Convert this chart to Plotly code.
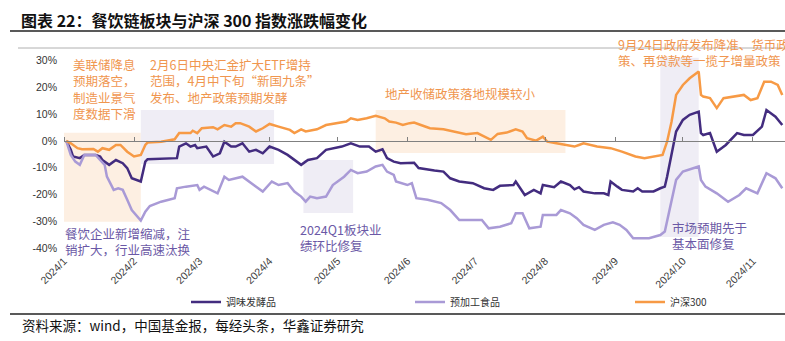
import plotly.graph_objects as go

# ---------------- data ----------------
hs300_dates = ["2024-01-02","2024-01-04","2024-01-07","2024-01-09","2024-01-14","2024-01-16","2024-01-18","2024-01-21","2024-01-24","2024-01-26",
               "2024-01-29","2024-02-01","2024-02-04","2024-02-06","2024-02-07","2024-02-13","2024-02-19","2024-02-21","2024-02-26","2024-02-27",
               "2024-02-29","2024-03-02","2024-03-07","2024-03-09","2024-03-12","2024-03-15","2024-03-17","2024-03-19","2024-03-23","2024-03-26",
               "2024-03-29","2024-04-01","2024-04-05","2024-04-10","2024-04-12","2024-04-15","2024-04-17","2024-04-22","2024-04-26","2024-04-30",
               "2024-05-05","2024-05-07","2024-05-10","2024-05-14","2024-05-18","2024-05-22","2024-05-24","2024-05-27","2024-05-30","2024-06-02",
               "2024-06-04","2024-06-07","2024-06-11","2024-06-17","2024-06-21","2024-06-25","2024-06-27","2024-07-02","2024-07-08","2024-07-11",
               "2024-07-15","2024-07-19","2024-07-22","2024-07-24","2024-07-28","2024-07-31","2024-08-02","2024-08-06","2024-08-11","2024-08-14",
               "2024-08-16","2024-08-18","2024-08-24","2024-08-30","2024-09-04","2024-09-10","2024-09-14","2024-09-19","2024-09-22","2024-09-24",
               "2024-09-26","2024-09-28","2024-10-01","2024-10-04","2024-10-08","2024-10-09","2024-10-10","2024-10-13","2024-10-16","2024-10-19",
               "2024-10-23","2024-10-28","2024-10-31","2024-11-03","2024-11-06","2024-11-09","2024-11-12","2024-11-14"]
hs300_vals = [0,-0.9,-2.7,-3.1,-3.0,-4.0,-2.7,-3.3,-1.5,-1.5,
              -4.0,-5.8,-5.2,-1.5,-0.6,-0.3,0.6,2.9,2.9,3.8,
              2.9,4.7,5.1,4.3,5.9,5.3,6.6,6.6,5.3,3.5,
              4.7,6.3,5.3,4.1,2.9,4.3,3.5,4.3,5.9,6.6,
              7.2,8.4,7.8,8.4,9.3,8.4,7.2,6.8,5.9,6.6,
              6.8,5.9,4.7,4.3,3.5,2.9,2.5,2.9,0.4,2.6,
              3.1,4.3,3.5,1.0,0.1,1.6,-0.3,-0.9,-1.5,-2.1,
              -1.5,-0.9,-2.1,-2.7,-4.0,-5.8,-6.4,-5.8,-5.2,-0.3,
              7.2,17.1,20.8,23.3,25.8,17.1,16.5,15.9,12.2,15.9,
              16.5,17.1,15.2,15.9,22.0,22.0,20.8,17.1]

tw_dates = ["2024-01-02","2024-01-04","2024-01-05","2024-01-08","2024-01-10","2024-01-15","2024-01-17","2024-01-18","2024-01-21","2024-01-24",
            "2024-01-27","2024-01-29","2024-01-31","2024-02-04","2024-02-06","2024-02-07","2024-02-20","2024-02-21","2024-02-24","2024-02-26",
            "2024-02-28","2024-02-29","2024-03-04","2024-03-07","2024-03-10","2024-03-12","2024-03-15","2024-03-17","2024-03-20","2024-03-23",
            "2024-03-26","2024-03-29","2024-04-01","2024-04-05","2024-04-09","2024-04-12","2024-04-15","2024-04-18","2024-04-22","2024-04-26",
            "2024-04-30","2024-05-03","2024-05-07","2024-05-11","2024-05-15","2024-05-18","2024-05-21","2024-05-23","2024-05-26","2024-05-29",
            "2024-06-04","2024-06-06","2024-06-13","2024-06-17","2024-06-20","2024-06-24","2024-06-30","2024-07-05","2024-07-09","2024-07-12",
            "2024-07-18","2024-07-19","2024-07-23","2024-07-27","2024-07-30","2024-07-31","2024-08-05","2024-08-08","2024-08-12","2024-08-14",
            "2024-08-16","2024-08-18","2024-08-23","2024-08-27","2024-08-29","2024-08-30","2024-09-02","2024-09-04","2024-09-09","2024-09-11",
            "2024-09-13","2024-09-18","2024-09-21","2024-09-23","2024-09-24","2024-09-26","2024-09-28","2024-10-01","2024-10-04","2024-10-08",
            "2024-10-09","2024-10-10","2024-10-13","2024-10-16","2024-10-20","2024-10-25","2024-10-28","2024-11-01","2024-11-05","2024-11-07",
            "2024-11-11","2024-11-14"]
tw_vals = [0,-3.3,-5.8,-6.4,-5.2,-5.2,-5.8,-7.1,-8.9,-7.1,
           -8.3,-10.1,-13.9,-15.1,-7.7,-6.8,-6.4,-2.1,-0.9,-2.1,
           -1.5,-2.7,-2.1,-5.8,-4.6,-0.3,-2.1,-2.1,-0.9,-4.0,
           -3.3,-4.6,-2.1,-3.3,-5.2,-7.1,-8.9,-7.1,-6.4,-3.3,
           -2.7,-2.1,-0.9,-2.1,-2.1,-4.0,-3.1,-6.4,-7.7,-8.3,
           -8.1,-10.1,-11.0,-11.4,-13.9,-15.1,-15.7,-17.6,-18.2,-16.7,
           -16.4,-15.1,-20.1,-18.2,-19.5,-16.4,-17.2,-15.1,-16.4,-18.0,
           -17.2,-18.8,-19.5,-19.5,-20.1,-15.1,-17.0,-18.2,-18.8,-17.6,
           -18.8,-18.8,-17.6,-17.0,-13.3,-5.2,3.5,7.8,9.7,10.9,
           2.9,2.2,2.9,-4.0,-1.5,2.9,2.2,2.2,5.3,11.5,
           9.0,5.9]

yj_dates = ["2024-01-02","2024-01-04","2024-01-06","2024-01-08","2024-01-10","2024-01-15","2024-01-17","2024-01-19","2024-01-20","2024-01-23",
            "2024-01-25","2024-01-27","2024-01-29","2024-01-31","2024-02-04","2024-02-06","2024-02-08","2024-02-13","2024-02-19","2024-02-20",
            "2024-02-24","2024-02-29","2024-03-01","2024-03-03","2024-03-09","2024-03-12","2024-03-14","2024-03-17","2024-03-20","2024-03-25",
            "2024-03-29","2024-04-02","2024-04-05","2024-04-09","2024-04-12","2024-04-15","2024-04-17","2024-04-19","2024-04-22","2024-04-26",
            "2024-04-29","2024-05-04","2024-05-07","2024-05-10","2024-05-14","2024-05-18","2024-05-21","2024-05-23","2024-05-26","2024-05-27",
            "2024-06-01","2024-06-03","2024-06-05","2024-06-10","2024-06-16","2024-06-20","2024-06-24","2024-07-04","2024-07-07","2024-07-12",
            "2024-07-17","2024-07-19","2024-07-22","2024-07-25","2024-07-30","2024-07-31","2024-08-06","2024-08-08","2024-08-12","2024-08-15",
            "2024-08-18","2024-08-23","2024-08-27","2024-08-31","2024-09-03","2024-09-06","2024-09-09","2024-09-16","2024-09-21","2024-09-23",
            "2024-09-25","2024-09-28","2024-10-01","2024-10-08","2024-10-09","2024-10-11","2024-10-16","2024-10-21","2024-10-26","2024-10-29",
            "2024-11-03","2024-11-07","2024-11-11","2024-11-14"]
yj_vals = [0,-5.2,-7.7,-8.9,-5.2,-5.2,-7.1,-8.9,-13.3,-18.2,
           -17.6,-18.2,-21.9,-25.7,-29.6,-26.3,-24.2,-22.6,-21.3,-17.6,
           -17.0,-16.4,-18.2,-17.0,-19.5,-13.3,-14.5,-13.9,-13.3,-16.4,
           -18.8,-15.1,-16.4,-15.7,-18.8,-20.7,-22.6,-20.7,-21.3,-20.7,
           -16.4,-13.3,-10.8,-12.0,-11.4,-9.5,-8.9,-11.4,-12.6,-15.1,
           -16.4,-15.7,-21.3,-21.9,-23.1,-25.7,-29.4,-29.4,-32.5,-31.9,
           -30.6,-26.9,-26.9,-32.5,-31.9,-27.5,-27.5,-25.7,-26.9,-28.7,
           -31.2,-33.1,-31.2,-30.3,-31.2,-33.1,-36.2,-36.2,-35.0,-33.7,
           -26.3,-14.5,-11.4,-9.5,-14.5,-17.0,-19.5,-22.6,-20.1,-17.6,
           -19.5,-12.0,-13.9,-17.6]

series_names = ["调味发酵品", "预加工食品", "沪深300"]
series_colors = ["#432c7f", "#a99ad6", "#f79a45"]

# highlighted periods (date range and value range)
shade_start = ["2024-01-01", "2024-02-04", "2024-04-16", "2024-05-18", "2024-09-21"]
shade_end = ["2024-02-04", "2024-04-03", "2024-05-08", "2024-08-10", "2024-10-08"]
shade_top = [3.0, 11.5, -7.1, 11.5, 30.9]
shade_bottom = [-30.1, -8.6, -26.8, -4.5, -35.7]
shade_fill = ["#fdefe2", "#efedf5", "#efedf5", "#fdefe2", "#efedf5"]

y_ticks = [30, 20, 10, 0, -10, -20, -30, -40]
y_range = [-41.3, 33.8]
x_range = ["2024-01-01", "2024-11-15 05:00"]

# ---------------- figure ----------------
W, H = 785, 341
ML, MR, MT, MB = 64, 0, 50, 89
PW, PH = W - ML - MR, H - MT - MB

def px(x):
    return (x - ML) / PW

def py(y):
    return (H - MB - y) / PH

fig = go.Figure()
legend_ids = ["legend", "legend2", "legend3"]
for (name, xs, ys, col), lg in zip([(series_names[0], tw_dates, tw_vals, series_colors[0]),
                                    (series_names[1], yj_dates, yj_vals, series_colors[1]),
                                    (series_names[2], hs300_dates, hs300_vals, series_colors[2])], legend_ids):
    fig.add_trace(go.Scatter(x=xs, y=ys, name=name, mode="lines", legend=lg,
                             line=dict(color=col, width=2.5)))

# helper trace for the zero-line axis with month ticks
fig.add_trace(go.Scatter(x=hs300_dates, y=hs300_vals, xaxis="x2", yaxis="y", mode="lines",
                         line=dict(color="rgba(0,0,0,0)", width=0), showlegend=False, hoverinfo="skip"))

shapes = []
for s, e, t, b, c in zip(shade_start, shade_end, shade_top, shade_bottom, shade_fill):
    shapes.append(dict(type="rect", xref="x", yref="y", x0=s, x1=e, y0=b, y1=t,
                       fillcolor=c, line=dict(width=0), layer="below"))
# page rules
shapes.append(dict(type="line", xref="paper", yref="paper", x0=px(10), x1=px(785), y0=py(31), y1=py(31),
                   line=dict(color="#222222", width=1.5)))
shapes.append(dict(type="line", xref="paper", yref="paper", x0=px(18), x1=px(785), y0=py(48), y1=py(48),
                   line=dict(color="#b0b0b0", width=1)))
shapes.append(dict(type="line", xref="paper", yref="paper", x0=px(10), x1=px(785), y0=py(314), y1=py(314),
                   line=dict(color="#222222", width=1.5)))

OR = "#f0964f"
PU = "#6b59a6"
CJK = "Noto Sans CJK SC"
ann = []
def add_text(text, x, y, color, size=12.5, xanchor="left", yanchor="middle"):
    ann.append(dict(text=text, x=px(x), y=py(y), xref="paper", yref="paper", showarrow=False,
                    xanchor=xanchor, yanchor=yanchor, align="left",
                    font=dict(family=CJK, size=size, color=color)))

add_text("<b>图表 22：餐饮链板块与沪深 300 指数涨跌幅变化</b>", 19, 20, "#111111", size=16)
add_text("美联储降息<br>预期落空，<br>制造业景气<br>度数据下滑", 71, 89, OR)
add_text("2月6日中央汇金扩大ETF增持<br>范围，4月中下旬“新国九条”<br>发布、地产政策预期发酵", 148, 81, OR)
add_text("地产收储政策落地规模较小", 383, 93, OR)
add_text("9月24日政府发布降准、货币政<br>策、再贷款等一揽子增量政策", 616, 52, OR)
add_text("餐饮企业新增缩减，注<br>销扩大，行业高速汰换", 63, 241, PU)
add_text("2024Q1板块业<br>绩环比修复", 298, 237, PU)
add_text("市场预期先于<br>基本面修复", 670, 235.5, PU)
add_text("资料来源：wind，中国基金报，每经头条，华鑫证券研究", 20, 325, "#111111", size=13.5)

def leg(text_x):
    return dict(orientation="h", x=px(text_x - 42), y=py(302), xanchor="left", yanchor="middle",
                font=dict(family=CJK, size=10, color="#333333"), bgcolor="rgba(0,0,0,0)",
                itemclick=False, itemdoubleclick=False)

fig.update_layout(
    width=W, height=H,
    margin=dict(l=ML, r=MR, t=MT, b=MB, pad=0),
    paper_bgcolor="white", plot_bgcolor="white",
    font=dict(family=CJK, color="#333333"),
    shapes=shapes, annotations=ann,
    showlegend=True,
    legend=leg(228), legend2=leg(452), legend3=leg(672),
    xaxis=dict(type="date", range=x_range, dtick="M1", tick0="2024-01-01", tickformat="%Y/%-m",
               tickangle=-45, showgrid=False, zeroline=False, showline=False, ticks="",
               tickfont=dict(family="Liberation Sans, Arial", size=10.5, color="#404040")),
    xaxis2=dict(type="date", range=x_range, overlaying="x", anchor="free", position=(0 - y_range[0]) / (y_range[1] - y_range[0]),
                side="top", showline=True, linecolor="#808080", linewidth=1, ticks="outside", ticklen=4,
                tickcolor="#808080", tickwidth=1, dtick="M1", tick0="2024-01-01", showticklabels=False,
                showgrid=False, zeroline=False),
    yaxis=dict(range=y_range, tickvals=y_ticks, ticktext=[f"{v}%" for v in y_ticks], showgrid=False,
               zeroline=False, showline=False, ticks="", ticklabelstandoff=6,
               tickfont=dict(family="Liberation Sans, Arial", size=10.5, color="#333333")),
)

fig.write_html("out.html")
